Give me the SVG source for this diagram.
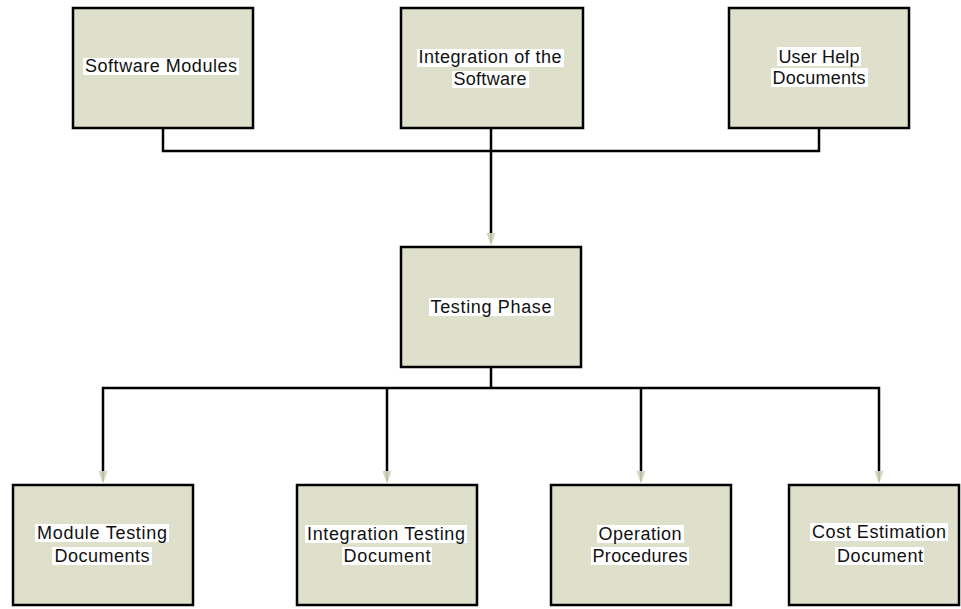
<svg xmlns="http://www.w3.org/2000/svg" xmlns:xlink="http://www.w3.org/1999/xlink" width="961" height="609" viewBox="0 0 961 609">
  <style>
    .box { fill: #dee0cb; stroke: #000; stroke-width: 2.5; }
    .hl { fill: #fff; }
    .lbl { font-family: "Liberation Sans", Arial, sans-serif; font-size: 18px; fill: #111; text-anchor: middle; }
    .wire { fill: none; stroke: #000; stroke-width: 2.5; }
  </style>
  <defs>
    <!-- pale arrowhead, tip at origin -->
    <g id="tip">
      <polygon points="-4.5,-14 4.5,-14 0,-1" fill="#d3d7bf"/>
      <line x1="0" y1="-14" x2="0" y2="-4" stroke="#b9bca6" stroke-width="1.5"/>
    </g>
  </defs>
  <rect width="961" height="609" fill="#fff"/>

  <!-- connectors -->
  <g id="connectors">
    <path class="wire" d="M163 128 V151 H819 V128 M491 128 V233"/>
    <path class="wire" d="M491 367 V388 M103 471 V388 H879 V471 M387 388 V471 M641 388 V471"/>
    <use xlink:href="#tip" x="491" y="247"/>
    <use xlink:href="#tip" x="103" y="485"/>
    <use xlink:href="#tip" x="387" y="485"/>
    <use xlink:href="#tip" x="641" y="485"/>
    <use xlink:href="#tip" x="879" y="485"/>
  </g>

  <g id="software-modules">
    <rect class="box" x="73" y="8" width="180" height="120"/>
    <rect class="hl" x="83" y="58" width="156" height="17"/>
    <text class="lbl" x="161" y="72" textLength="152" lengthAdjust="spacing">Software Modules</text>
  </g>

  <g id="integration-software">
    <rect class="box" x="401" y="8" width="182" height="120"/>
    <rect class="hl" x="417" y="49" width="147" height="18"/>
    <text class="lbl" x="490" y="63" textLength="143" lengthAdjust="spacing">Integration of the</text>
    <rect class="hl" x="452" y="71" width="77" height="17"/>
    <text class="lbl" x="490" y="85" textLength="73" lengthAdjust="spacing">Software</text>
  </g>

  <g id="user-help">
    <rect class="box" x="729" y="8" width="180" height="120"/>
    <rect class="hl" x="777" y="47" width="84" height="19"/>
    <text class="lbl" x="819" y="63" textLength="81" lengthAdjust="spacing">User Help</text>
    <rect class="hl" x="771" y="68" width="97" height="19"/>
    <text class="lbl" x="819" y="84" textLength="93" lengthAdjust="spacing">Documents</text>
  </g>

  <g id="testing-phase">
    <rect class="box" x="401" y="247" width="180" height="120"/>
    <rect class="hl" x="429" y="298" width="125" height="18"/>
    <text class="lbl" x="491" y="313" textLength="121" lengthAdjust="spacing">Testing Phase</text>
  </g>

  <g id="module-testing">
    <rect class="box" x="13" y="485" width="180" height="120"/>
    <rect class="hl" x="35" y="524" width="134" height="18"/>
    <text class="lbl" x="102" y="539" textLength="130" lengthAdjust="spacing">Module Testing</text>
    <rect class="hl" x="52" y="547" width="100" height="18"/>
    <text class="lbl" x="102" y="562" textLength="95" lengthAdjust="spacing">Documents</text>
  </g>

  <g id="integration-testing">
    <rect class="box" x="297" y="485" width="180" height="120"/>
    <rect class="hl" x="305" y="525" width="162" height="18"/>
    <text class="lbl" x="386" y="540" textLength="158" lengthAdjust="spacing">Integration Testing</text>
    <rect class="hl" x="342" y="547" width="90" height="18"/>
    <text class="lbl" x="387" y="562" textLength="87" lengthAdjust="spacing">Document</text>
  </g>

  <g id="operation-procedures">
    <rect class="box" x="551" y="485" width="180" height="120"/>
    <rect class="hl" x="597" y="525" width="87" height="18"/>
    <text class="lbl" x="640" y="540" textLength="83" lengthAdjust="spacing">Operation</text>
    <rect class="hl" x="591" y="547" width="98" height="18"/>
    <text class="lbl" x="640" y="562" textLength="95" lengthAdjust="spacing">Procedures</text>
  </g>

  <g id="cost-estimation">
    <rect class="box" x="789" y="485" width="170" height="120"/>
    <rect class="hl" x="810" y="523" width="138" height="18"/>
    <text class="lbl" x="879" y="538" textLength="134" lengthAdjust="spacing">Cost Estimation</text>
    <rect class="hl" x="835" y="547" width="89" height="18"/>
    <text class="lbl" x="880" y="562" textLength="86" lengthAdjust="spacing">Document</text>
  </g>
</svg>
